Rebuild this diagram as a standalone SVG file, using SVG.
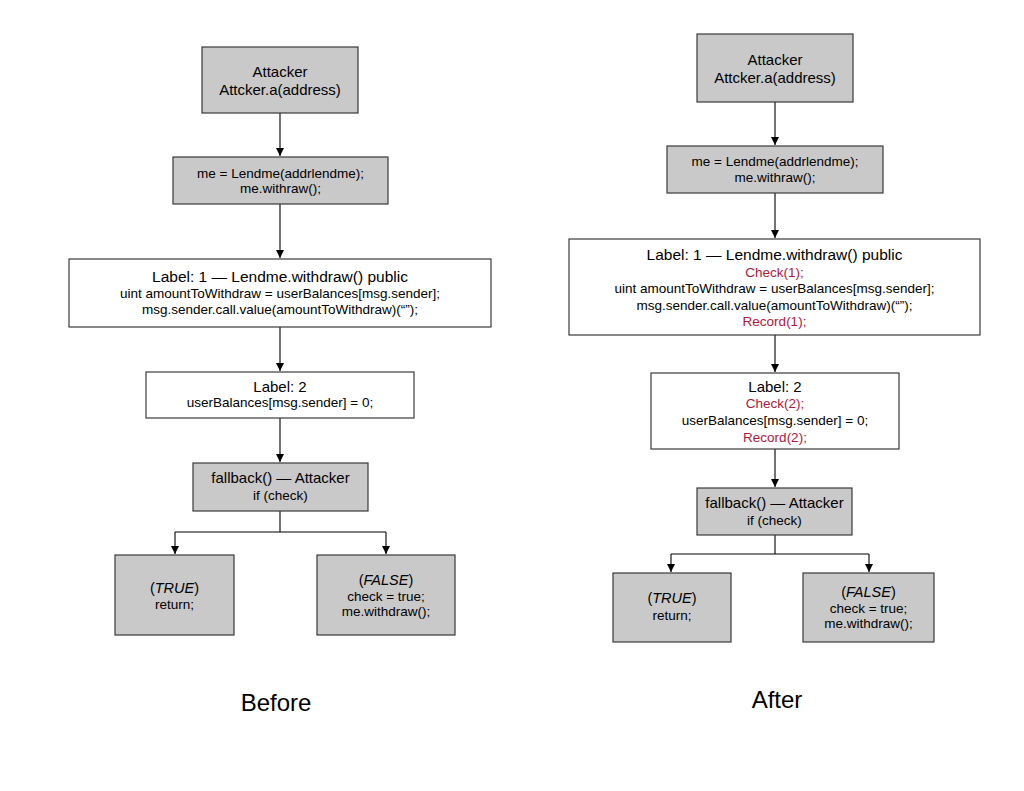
<svg xmlns="http://www.w3.org/2000/svg" width="1024" height="791" viewBox="0 0 1024 791">
<defs>
<marker id="ah" markerWidth="8" markerHeight="10" refX="8" refY="5" orient="auto" markerUnits="userSpaceOnUse" viewBox="0 0 8 10">
<path d="M0,1 L8,5 L0,9 Z" fill="#000"/>
</marker>
<style>
.g{fill:#c9c9c9;stroke:#3a3a3a;stroke-width:1.2}
.w{fill:#fff;stroke:#3a3a3a;stroke-width:1.2}
text{font-family:"Liberation Sans",Arial,sans-serif;text-anchor:middle;fill:#000}
.t{font-size:15px}
.b{font-size:13.5px}
.i{font-size:14.5px}
.r{fill:#b0173c}
.cap{font-size:24px}
.c{fill:none;stroke:#000;stroke-width:1.1}
</style>
</defs>
<rect width="1024" height="791" fill="#fff"/>

<g id="connectors">
<path class="c" d="M280,113 V156" marker-end="url(#ah)"/>
<path class="c" d="M280,204 V258" marker-end="url(#ah)"/>
<path class="c" d="M280,327 V371" marker-end="url(#ah)"/>
<path class="c" d="M280,418 V462" marker-end="url(#ah)"/>
<path class="c" d="M280,511 V532"/>
<path class="c" d="M175,532 H386"/>
<path class="c" d="M175,532 V554" marker-end="url(#ah)"/>
<path class="c" d="M386,532 V554" marker-end="url(#ah)"/>

<path class="c" d="M775,102 V145" marker-end="url(#ah)"/>
<path class="c" d="M775,193 V238" marker-end="url(#ah)"/>
<path class="c" d="M775,335 V372" marker-end="url(#ah)"/>
<path class="c" d="M775,449 V487" marker-end="url(#ah)"/>
<path class="c" d="M775,535 V554"/>
<path class="c" d="M671,554 H869"/>
<path class="c" d="M671,554 V572" marker-end="url(#ah)"/>
<path class="c" d="M869,554 V572" marker-end="url(#ah)"/>
</g>

<g id="L-attacker">
<rect class="g" x="202" y="47" width="156" height="66"/>
<text class="t" x="280" y="77">Attacker</text>
<text class="t" x="280" y="95">Attcker.a(address)</text>
</g>
<g id="L-lendme">
<rect class="g" x="173" y="157" width="215" height="47"/>
<text class="b" x="280.5" y="178">me = Lendme(addrlendme);</text>
<text class="b" x="280.5" y="193">me.withraw();</text>
</g>
<g id="L-label1">
<rect class="w" x="69" y="259" width="422" height="68"/>
<text class="t" x="280" y="282" style="font-size:15.5px">Label: 1 — Lendme.withdraw() public</text>
<text class="b" x="280" y="298">uint amountToWithdraw = userBalances[msg.sender];</text>
<text class="b" x="280" y="314">msg.sender.call.value(amountToWithdraw)(“”);</text>
</g>
<g id="L-label2">
<rect class="w" x="146" y="372" width="268" height="46"/>
<text class="t" x="280" y="392">Label: 2</text>
<text class="b" x="280" y="407">userBalances[msg.sender] = 0;</text>
</g>
<g id="L-fallback">
<rect class="g" x="193" y="463" width="175" height="48"/>
<text class="t" x="280.5" y="483">fallback() — Attacker</text>
<text class="b" x="280.5" y="500">if (check)</text>
</g>
<g id="L-true">
<rect class="g" x="115" y="555" width="119" height="80"/>
<text class="i" x="174.5" y="593">(<tspan font-style="italic">TRUE</tspan>)</text>
<text class="b" x="174.5" y="609">return;</text>
</g>
<g id="L-false">
<rect class="g" x="317" y="555" width="138" height="80"/>
<text class="i" x="386" y="585">(<tspan font-style="italic">FALSE</tspan>)</text>
<text class="b" x="386" y="601">check = true;</text>
<text class="b" x="386" y="616">me.withdraw();</text>
</g>

<g id="R-attacker">
<rect class="g" x="697" y="34" width="156" height="68"/>
<text class="t" x="775" y="65">Attacker</text>
<text class="t" x="775" y="83">Attcker.a(address)</text>
</g>
<g id="R-lendme">
<rect class="g" x="667" y="146" width="216" height="47"/>
<text class="b" x="775" y="166">me = Lendme(addrlendme);</text>
<text class="b" x="775" y="182">me.withraw();</text>
</g>
<g id="R-label1">
<rect class="w" x="569" y="239" width="411" height="96"/>
<text class="t" x="774.5" y="260" style="font-size:15.5px">Label: 1 — Lendme.withdraw() public</text>
<text class="b r" x="774.5" y="277">Check(1);</text>
<text class="b" x="774.5" y="293">uint amountToWithdraw = userBalances[msg.sender];</text>
<text class="b" x="774.5" y="310">msg.sender.call.value(amountToWithdraw)(“”);</text>
<text class="b r" x="774.5" y="326">Record(1);</text>
</g>
<g id="R-label2">
<rect class="w" x="651" y="373" width="248" height="76"/>
<text class="t" x="775" y="392">Label: 2</text>
<text class="b r" x="775" y="408">Check(2);</text>
<text class="b" x="775" y="425">userBalances[msg.sender] = 0;</text>
<text class="b r" x="775" y="442">Record(2);</text>
</g>
<g id="R-fallback">
<rect class="g" x="697" y="488" width="155" height="47"/>
<text class="t" x="774.5" y="508">fallback() — Attacker</text>
<text class="b" x="774.5" y="525">if (check)</text>
</g>
<g id="R-true">
<rect class="g" x="613" y="573" width="118" height="69"/>
<text class="i" x="672" y="603">(<tspan font-style="italic">TRUE</tspan>)</text>
<text class="b" x="672" y="620">return;</text>
</g>
<g id="R-false">
<rect class="g" x="803" y="573" width="131" height="69"/>
<text class="i" x="868.5" y="597">(<tspan font-style="italic">FALSE</tspan>)</text>
<text class="b" x="868.5" y="613">check = true;</text>
<text class="b" x="868.5" y="628">me.withdraw();</text>
</g>

<text class="cap" x="276" y="711">Before</text>
<text class="cap" x="777" y="708">After</text>
</svg>
